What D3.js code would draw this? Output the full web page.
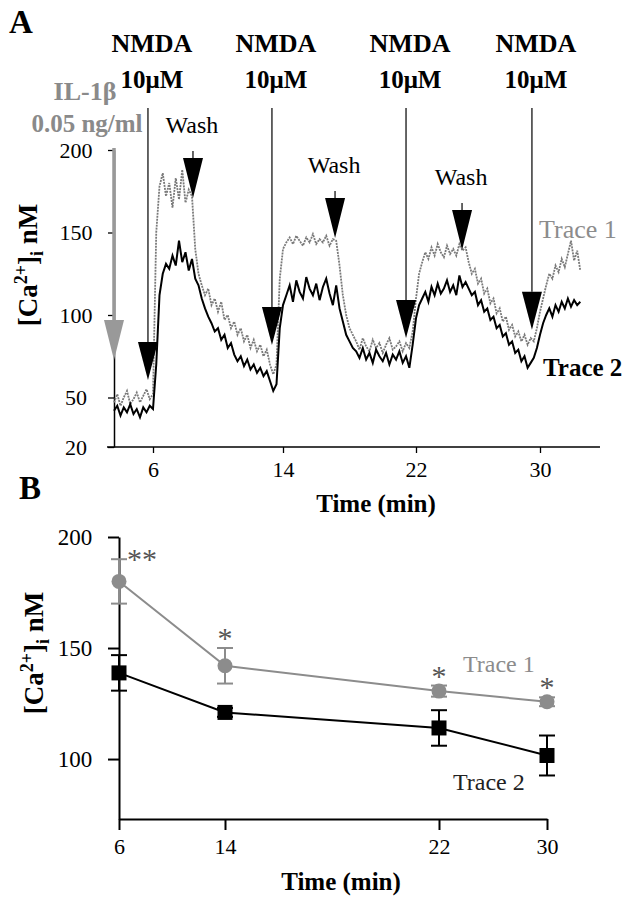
<!DOCTYPE html>
<html><head><meta charset="utf-8">
<script src="https://cdn.jsdelivr.net/npm/d3@7"></script>
<style>
body{margin:0;background:#fff}
svg{display:block}
text{font-family:"Liberation Serif","Times New Roman",serif}
</style>
</head><body>
<svg id="c" width="627" height="899"></svg>
<script>
// ---------- Panel A data ----------
const sampleStart = 3.6;   // min
const sampleStep = 0.2;    // min
const trace1 = [
  47,52,45,50,54,46,49,53,47,51,55,49,52,
  150,178,186,172,180,165,183,170,188,168,176,172,
  140,125,118,112,116,106,110,102,108,97,100,92,96,88,92,84,88,80,85,78,82,75,79,70,64,70,122,140,
  144,147,143,148,145,142,147,144,149,143,146,144,148,142,146,145,
  130,112,100,92,88,
  84,79,86,81,78,85,80,83,77,82,86,79,81,84,78,83,80,
  90,110,125,132,
  138,134,141,136,143,138,135,142,137,140,136,143,139,141,
  132,125,128,119,122,113,116,107,110,101,104,96,99,91,94,87,90,84,88,82,86,84,
  92,102,
  110,118,125,122,130,126,134,129,137,145,133,139,127
];
const trace2 = [
  42,45,39,44,41,46,40,43,38,44,41,45,43,
  70,112,125,131,128,136,130,145,132,138,127,134,
  122,118,110,104,99,95,90,92,85,88,80,83,76,72,75,69,73,67,70,65,68,63,66,60,54,58,92,106,
  112,118,108,121,114,110,123,116,112,119,109,117,122,113,106,118,
  104,96,88,84,80,
  78,74,80,73,77,71,79,75,72,77,70,76,73,78,71,75,68,
  82,98,106,110,
  114,108,117,112,119,113,116,121,114,118,112,124,117,120,
  116,112,114,106,109,102,104,97,99,92,94,87,89,82,84,77,79,72,75,68,71,74,
  80,88,
  95,100,104,99,106,102,108,104,110,105,109,106,108
];
const timeTicksA = [6, 14, 22, 30];
const yTicksA = [20, 50, 100, 150, 200];
const nmdaTimes = [5.69, 13.32, 21.4, 29.48];
const nmdaTipValues = [60.6, 81.8, 86, 91];
const washTimes = [8.46, 17.13, 24.97];
const washTipValues = [170.9, 146.7, 139.4];
const il1bTime = 3.6;
const il1bTipValue = 72.7;

// ---------- Panel B data ----------
const timesB = [6, 14, 22, 30];
const mean1B = [180, 142, 130.6, 125.8];
const err1B = [10, 8, 2.5, 2];
const mean2B = [138.8, 121, 114, 101.6];
const err2B = [8, 2, 8, 9];
const sigB = ["**", "*", "*", "*"];
const yTicksB = [100, 150, 200];

const svg = d3.select("#c");
const GRAY = "#8c8c8c";

// ================= Panel A =================
const xA = d3.scaleLinear().domain([6, 14, 22, 30]).range([153, 283, 416, 540]);
const yA = d3.scaleLinear().domain([20, 200]).range([447, 150]);
const tA = d3.range(trace1.length).map(i => sampleStart + i * sampleStep);

svg.append("text").attr("x", 9).attr("y", 33).attr("font-size", 33).attr("font-weight", "bold").text("A");

// x axis
const gxA = svg.append("g").attr("transform", "translate(0,447)")
  .call(d3.axisBottom(xA).tickValues(timeTicksA).tickSize(6).tickSizeOuter(0).tickPadding(8));
gxA.select(".domain").remove();
gxA.append("line").attr("x1", xA(3.17)).attr("x2", xA(33.87)).attr("stroke", "#000").attr("stroke-width", 1.5);
gxA.selectAll(".tick line").attr("stroke-width", 1.3);
gxA.selectAll("text").attr("font-size", 22).attr("fill", "#000");

// y axis
const gyA = svg.append("g").attr("transform", "translate(114,0)")
  .call(d3.axisLeft(yA).tickValues(yTicksA).tickSize(6).tickSizeOuter(0));
gyA.select(".domain").attr("stroke-width", 1.5);
gyA.selectAll(".tick line").attr("stroke-width", 1.3);
gyA.selectAll("text").attr("font-size", 22)
  .attr("text-anchor", "middle").attr("x", -38).attr("fill", "#000");

svg.append("text")
  .attr("transform", "translate(37,265) rotate(-90)")
  .attr("text-anchor", "middle").attr("font-size", 27).attr("font-weight", "bold")
  .html('[Ca<tspan dy="-10" font-size="18">2+</tspan><tspan dy="10">]</tspan><tspan dy="6" font-size="18">i</tspan><tspan dy="-6"> nM</tspan>');

svg.append("text").attr("x", 376).attr("y", 512).attr("text-anchor", "middle")
  .attr("font-size", 25).attr("font-weight", "bold").text("Time (min)");

// traces
const lineA = d3.line().x((d, i) => xA(tA[i])).y(d => yA(d));
svg.append("path").datum(trace1).attr("d", lineA).attr("fill", "none")
  .attr("stroke", "#7a7a7a").attr("stroke-width", 1.8).attr("stroke-dasharray", "2,1")
  .attr("stroke-linejoin", "miter");
svg.append("path").datum(trace2).attr("d", lineA).attr("fill", "none")
  .attr("stroke", "#000").attr("stroke-width", 2).attr("stroke-linejoin", "miter");

// IL-1β arrow
{
  const x = xA(il1bTime), tip = yA(il1bTipValue);
  svg.append("line").attr("x1", x).attr("x2", x).attr("y1", 148).attr("y2", tip - 40)
    .attr("stroke", "#999").attr("stroke-width", 3.5);
  svg.append("path").attr("d", `M${x-10},${tip-40}L${x+10},${tip-40}L${x},${tip}Z`).attr("fill", "#999");
  svg.append("text").attr("x", 85).attr("y", 100).attr("text-anchor", "middle")
    .attr("font-size", 26).attr("font-weight", "bold").attr("fill", "#8a8a8a").text("IL-1β");
  svg.append("text").attr("x", 87).attr("y", 132).attr("text-anchor", "middle")
    .attr("font-size", 25).attr("font-weight", "bold").attr("fill", "#8a8a8a").text("0.05 ng/ml");
}

// NMDA arrows
nmdaTimes.forEach((t, i) => {
  const x = xA(t), tip = yA(nmdaTipValues[i]);
  svg.append("line").attr("x1", x).attr("x2", x).attr("y1", 108).attr("y2", tip - 38)
    .attr("stroke", "#000").attr("stroke-width", 1.2);
  svg.append("path").attr("d", `M${x-10},${tip-38}L${x+10},${tip-38}L${x},${tip}Z`).attr("fill", "#000");
  svg.append("text").attr("x", x + 4).attr("y", 52).attr("text-anchor", "middle")
    .attr("font-size", 26).attr("font-weight", "bold").text("NMDA");
  svg.append("text").attr("x", x + 4).attr("y", 88).attr("text-anchor", "middle")
    .attr("font-size", 25).attr("font-weight", "bold").text("10μM");
});

// Wash arrows
washTimes.forEach((t, i) => {
  const x = xA(t), tip = yA(washTipValues[i]);
  svg.append("line").attr("x1", x).attr("x2", x).attr("y1", tip - 47).attr("y2", tip - 39)
    .attr("stroke", "#000").attr("stroke-width", 1.2);
  svg.append("path").attr("d", `M${x-10},${tip-40}L${x+10},${tip-40}L${x},${tip}Z`).attr("fill", "#000");
  svg.append("text").attr("x", x - 1).attr("y", tip - 65).attr("text-anchor", "middle")
    .attr("font-size", 24).text("Wash");
});

svg.append("text").attr("x", 539).attr("y", 238).attr("font-size", 26).attr("fill", GRAY).text("Trace 1");
svg.append("text").attr("x", 543).attr("y", 376).attr("font-size", 25).attr("font-weight", "bold").text("Trace 2");

// ================= Panel B =================
const xB = d3.scaleLinear().domain([6, 14, 22, 30]).range([119, 225, 439, 547]);
const yB = d3.scaleLinear().domain([73, 200]).range([819, 537]);

svg.append("text").attr("x", 19).attr("y", 499).attr("font-size", 33).attr("font-weight", "bold").text("B");

const gxB = svg.append("g").attr("transform", "translate(0,819)")
  .call(d3.axisBottom(xB).tickValues(timesB).tickSize(11).tickSizeOuter(0).tickPadding(8));
gxB.select(".domain").attr("stroke-width", 2);
gxB.selectAll(".tick line").attr("stroke-width", 2);
gxB.selectAll("text").attr("font-size", 22).attr("fill", "#000");

const gyB = svg.append("g").attr("transform", "translate(119,0)")
  .call(d3.axisLeft(yB).tickValues(yTicksB).tickSize(11).tickSizeOuter(0));
gyB.select(".domain").attr("stroke-width", 2);
gyB.selectAll(".tick line").attr("stroke-width", 2);
gyB.selectAll("text").attr("font-size", 23)
  .attr("text-anchor", "middle").attr("x", -44).attr("fill", "#000");

svg.append("text").attr("transform", "translate(43,653) rotate(-90)")
  .attr("text-anchor", "middle").attr("font-size", 27).attr("font-weight", "bold")
  .html('[Ca<tspan dy="-10" font-size="18">2+</tspan><tspan dy="10">]</tspan><tspan dy="6" font-size="18">i</tspan><tspan dy="-6"> nM</tspan>');

svg.append("text").attr("x", 341).attr("y", 890).attr("text-anchor", "middle")
  .attr("font-size", 25).attr("font-weight", "bold").text("Time (min)");

function errBars(means, errs, color) {
  means.forEach((m, i) => {
    const x = xB(timesB[i]), y1 = yB(m + errs[i]), y2 = yB(m - errs[i]);
    svg.append("line").attr("x1", x).attr("x2", x).attr("y1", y1).attr("y2", y2)
      .attr("stroke", color).attr("stroke-width", 2);
    [y1, y2].forEach(y => svg.append("line").attr("x1", x - 8).attr("x2", x + 8)
      .attr("y1", y).attr("y2", y).attr("stroke", color).attr("stroke-width", 2));
  });
}
errBars(mean1B, err1B, GRAY);
errBars(mean2B, err2B, "#000");

const lineB = d3.line().x((d, i) => xB(timesB[i])).y(d => yB(d));
svg.append("path").datum(mean1B).attr("d", lineB).attr("fill", "none").attr("stroke", GRAY).attr("stroke-width", 2);
svg.append("path").datum(mean2B).attr("d", lineB).attr("fill", "none").attr("stroke", "#000").attr("stroke-width", 2);

svg.selectAll(".c1").data(mean1B).enter().append("circle")
  .attr("cx", (d, i) => xB(timesB[i])).attr("cy", d => yB(d)).attr("r", 7.5).attr("fill", GRAY);
svg.selectAll(".s2").data(mean2B).enter().append("rect")
  .attr("x", (d, i) => xB(timesB[i]) - 7.5).attr("y", d => yB(d) - 7.5)
  .attr("width", 15).attr("height", 15).attr("fill", "#000");

sigB.forEach((s, i) => {
  const x = xB(timesB[i]), yTop = yB(mean1B[i] + err1B[i]);
  svg.append("text")
    .attr("x", i === 0 ? x + 8 : x)
    .attr("y", i === 0 ? yTop + 10 : yTop)
    .attr("text-anchor", i === 0 ? "start" : "middle")
    .attr("font-size", 30).attr("fill", "#555").text(s);
});

svg.append("text").attr("x", 463).attr("y", 672).attr("font-size", 24).attr("fill", GRAY).text("Trace 1");
svg.append("text").attr("x", 453).attr("y", 790).attr("font-size", 24).attr("fill", "#222").text("Trace 2");
</script>
</body></html>
